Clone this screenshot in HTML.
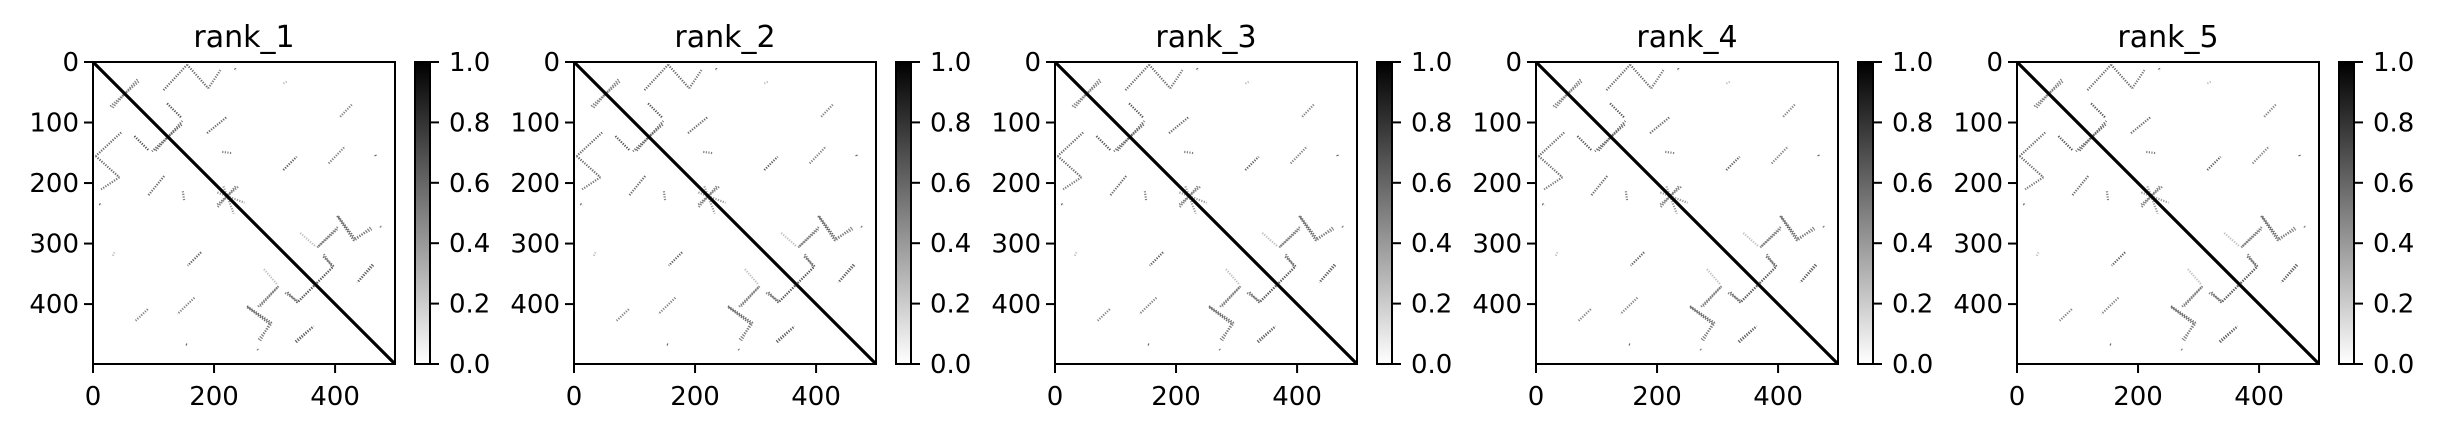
<!DOCTYPE html>
<html><head><meta charset="utf-8"><style>
html,body{margin:0;padding:0;background:#fff;}
svg{display:block;font-family:"DejaVu Sans","Liberation Sans",sans-serif;}
</style></head><body>
<svg id="fig" width="2437" height="432" viewBox="0 0 2437 432">
<defs><linearGradient id="gcb" x1="0" y1="1" x2="0" y2="0"><stop offset="0" stop-color="#ffffff"/><stop offset="1" stop-color="#000000"/></linearGradient></defs>
</svg>
<script>
const panelTitles = ["rank_1","rank_2","rank_3","rank_4","rank_5"];
const matrixSize = 499;
const axisTicks = [0,100,200,300,400];
const xTicks = [0,200,400];
const cbTicks = [0,0.2,0.4,0.6,0.8,1.0];
// contact streaks: [row, col] start/end, mirrored across diagonal
const segStart = [[32,75],[46,116],[4,155],[43,190],[68,122],[103,146],[117,188],[90,408],[178,314],[167,389],[255,405],[291,432],[304,372],[362,438],[282,342],[321,380],[395,339],[317,381],[370,306],[254,403],[273,458],[334,461],[205,235],[215,205],[10,234],[148,213],[153,466],[271,474],[35,314]];
const segEnd   = [[73,28],[4,155],[43,190],[13,210],[92,146],[147,97],[90,221],[70,427],[156,336],[139,416],[291,432],[276,460],[271,405],[335,463],[304,367],[337,397],[337,397],[339,395],[403,276],[295,431],[295,431],[364,436],[240,205],[232,250],[14,236],[150,228],[156,467],[273,476],[32,320]];
const segValue = [0.5,0.6,0.6,0.55,0.7,0.6,0.6,0.5,0.65,0.5,0.6,0.5,0.5,0.65,0.25,0.6,0.65,0.5,0.5,0.6,0.5,0.6,0.5,0.4,0.6,0.5,0.6,0.5,0.25];

const NS="http://www.w3.org/2000/svg";
const svg=document.getElementById('fig');
function mk(tag,attrs,parent){const e=document.createElementNS(NS,tag);for(const k in attrs)e.setAttribute(k,attrs[k]);(parent||svg).appendChild(e);return e;}
const AX0=93, AY0=62, AW=302, STEP=481;
const s=AW/matrixSize;
panelTitles.forEach((t,p)=>{
  const x0=AX0+p*STEP;
  const g=mk('g',{});
  
  
  const px=v=>x0+(v+0.5)*s, py=v=>AY0+(v+0.5)*s;
  const bg=mk('rect',{x:x0,y:AY0,width:AW,height:AW,fill:'#fff'},g);
  
  
  segStart.forEach((a,i)=>{
    const b=segEnd[i], v=segValue[i];
    const shade=Math.round(255*(1-v));
    const col=`rgb(${shade},${shade},${shade})`;
    [[a[0],a[1],b[0],b[1]],[a[1],a[0],b[1],b[0]]].forEach(q=>{
      const l=mk('line',{x1:px(q[1]),y1:py(q[0]),x2:px(q[3]),y2:py(q[2]),stroke:col,'stroke-width':2.2,'stroke-dasharray':'1.2 1.4'},g);
      
      
    });
  });
  const d=mk('line',{x1:x0,y1:AY0,x2:x0+AW,y2:AY0+AW,stroke:'#000','stroke-width':3.2},g);
  
  
  const fr=mk('rect',{x:x0,y:AY0,width:AW,height:AW,fill:'none',stroke:'#000','stroke-width':2},g);
  
  
  axisTicks.forEach(v=>{
    const y=AY0+v*s;
    mk('line',{x1:x0-9,y1:y,x2:x0,y2:y,stroke:'#000','stroke-width':2},g);
    const tx=mk('text',{x:x0-14,y:y+9,'font-size':26,'text-anchor':'end',fill:'#000'},g);
    tx.textContent=v;
    
    
  });
  xTicks.forEach(v=>{
    const x=x0+v*s;
    mk('line',{x1:x,y1:AY0+AW,x2:x,y2:AY0+AW+9,stroke:'#000','stroke-width':2},g);
    const tx=mk('text',{x:x,y:405,'font-size':26,'text-anchor':'middle',fill:'#000'},g);
    tx.textContent=v;
    
    
  });
  const ti=mk('text',{x:x0+AW/2,y:47,'font-size':30,'text-anchor':'middle',fill:'#000'},g);
  ti.textContent=t;
  
  
  const cx=x0+322, cw=15;
  const cb=mk('rect',{x:cx,y:AY0,width:cw,height:AW,fill:'url(#gcb)',stroke:'#000','stroke-width':2},g);
  
  
  cbTicks.forEach(v=>{
    const y=AY0+AW-v*AW;
    mk('line',{x1:cx+cw,y1:y,x2:cx+cw+9,y2:y,stroke:'#000','stroke-width':2},g);
    const tx=mk('text',{x:cx+cw+19,y:y+9,'font-size':26,fill:'#000'},g);
    tx.textContent=v.toFixed(1);
    
    
  });
});
</script>
</body></html>
